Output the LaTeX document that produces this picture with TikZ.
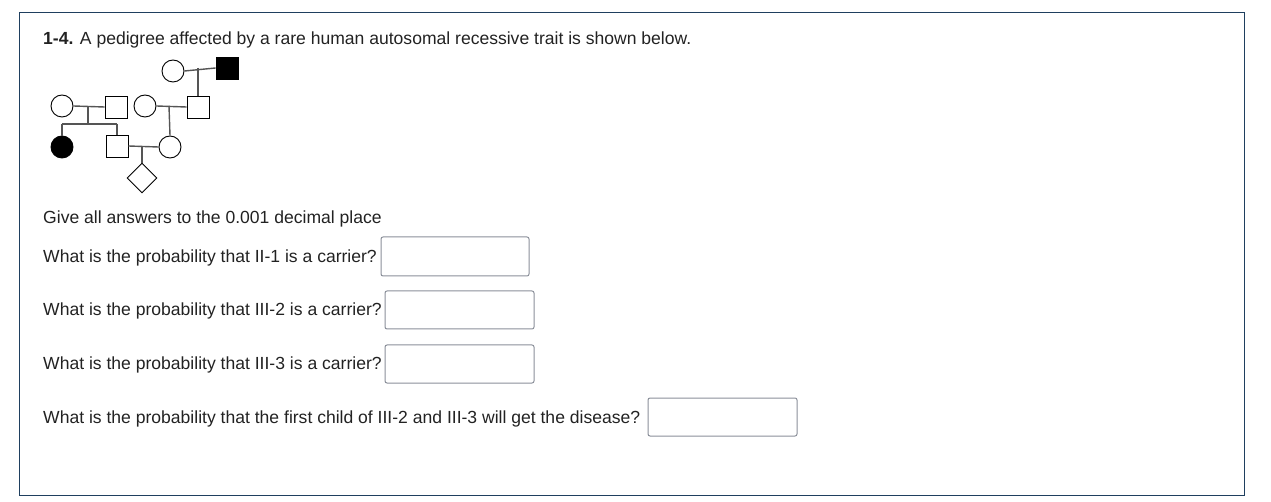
\documentclass[tikz,border=0pt]{standalone}
\usepackage{fontspec}
\setmainfont{Liberation Sans}
\definecolor{frame}{HTML}{1F3F5F}
\definecolor{txt}{HTML}{222222}
\definecolor{boxc}{HTML}{8A8F99}
\definecolor{pline}{HTML}{555555}
\tikzset{
  x=1pt, y=-1pt,
  txtn/.style={anchor=base west, inner sep=0pt, text=txt, font=\fontsize{17.55}{20}\selectfont},
  ansbox/.style={draw=boxc, line width=1pt, rounded corners=2pt},
  male/.style={draw=black, line width=0.9pt, minimum size=22pt, inner sep=0pt, rectangle},
  female/.style={draw=black, line width=0.9pt, minimum size=22pt, inner sep=0pt, circle},
  aff/.style={fill=black},
  unk/.style={draw=black, line width=0.9pt, minimum size=30pt, inner sep=0pt, diamond, shape aspect=1},
  pl/.style={draw=pline, line width=1.4pt},
}
\usetikzlibrary{shapes.geometric}
\begin{document}
\begin{tikzpicture}
\useasboundingbox (0,0) rectangle (1271,502);
\draw[frame, line width=1pt] (19,13) rectangle (1244,495);

% text
\node[txtn] (t0) at (43,45) {\textbf{1-4.} A pedigree affected by a rare human autosomal recessive trait is shown below.};
\node[txtn] (t1) at (43,224) {Give all answers to the 0.001 decimal place};
\node[txtn] (q1) at (43,263) {What is the probability that II-1 is a carrier?};
\node[txtn] (q2) at (43,316) {What is the probability that III-2 is a carrier?};
\node[txtn] (q3) at (43,370) {What is the probability that III-3 is a carrier?};
\node[txtn] (q4) at (43,423) {What is the probability that the first child of III-2 and III-3 will get the disease?};

% answer boxes
\draw[ansbox] (381,237) rectangle (529,276);
\draw[ansbox] (385,291) rectangle (534,329);
\draw[ansbox] (385,345) rectangle (534,383);
\draw[ansbox] (648,398) rectangle (797,436);

% pedigree
\node[female] (I1) at (173,71) {};
\node[male, aff] (I2) at (227,68) {};
\node[female] (II1) at (62,106) {};
\node[male] (II2) at (116,107) {};
\node[female] (II3) at (145,106) {};
\node[male] (II4) at (198,107) {};
\node[female, aff] (III1) at (62,147) {};
\node[male] (III2) at (117,146) {};
\node[female] (III3) at (170,147) {};
\node[unk] (IV1) at (142,178) {};

\coordinate (m1) at (198,68);
\coordinate (m2) at (88,106);
\coordinate (s2) at (88,124);
\coordinate (m3) at (169,106);
\coordinate (m4) at (142,147);

\draw[pl] (I1.east) -- (I2.west);
\draw[pl] (m1) -- (II4.north);
\draw[pl] (II1.east) -- (II2.west);
\draw[pl] (m2) -- (s2);
\draw[pl] (III1.north |- s2) -- (III2.north |- s2);
\draw[pl] (III1.north |- s2) -- (III1.north);
\draw[pl] (III2.north |- s2) -- (III2.north);
\draw[pl] (II3.east) -- (II4.west);
\draw[pl] (m3) -- (III3.north);
\draw[pl] (III2.east) -- (III3.west);
\draw[pl] (m4) -- (IV1.north);
\end{tikzpicture}
\end{document}
